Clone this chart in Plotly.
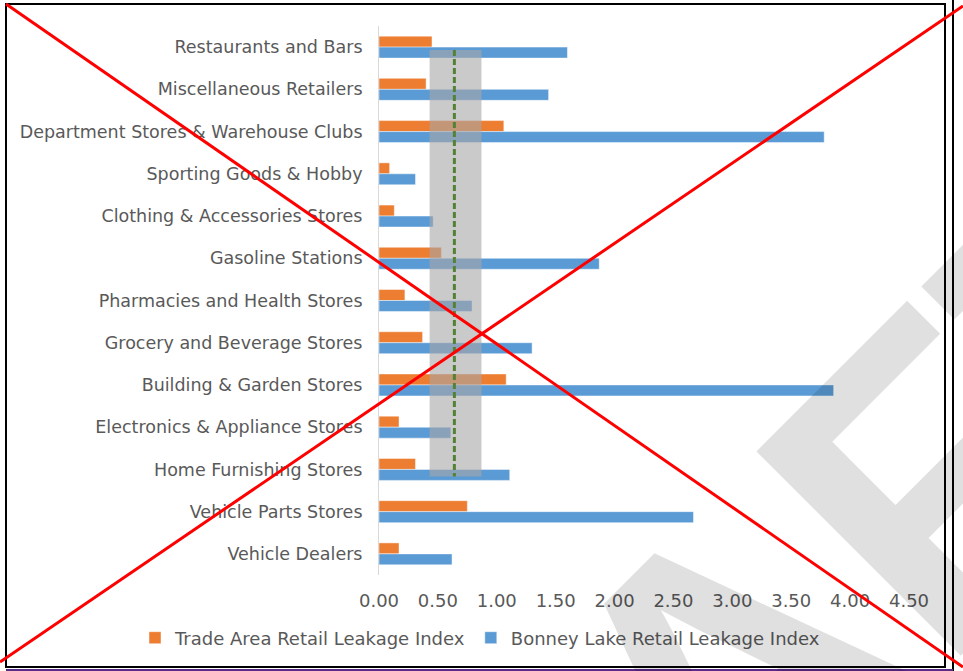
import plotly.graph_objects as go

# retail categories, top to bottom as shown
categories = [
    "Restaurants and Bars",
    "Miscellaneous Retailers",
    "Department Stores & Warehouse Clubs",
    "Sporting Goods & Hobby",
    "Clothing & Accessories Stores",
    "Gasoline Stations",
    "Pharmacies and Health Stores",
    "Grocery and Beverage Stores",
    "Building & Garden Stores",
    "Electronics & Appliance Stores",
    "Home Furnishing Stores",
    "Vehicle Parts Stores",
    "Vehicle Dealers",
]
trade_area = [0.45, 0.40, 1.06, 0.09, 0.13, 0.53, 0.22, 0.37, 1.08, 0.17, 0.31, 0.75, 0.17]
bonney_lake = [1.60, 1.44, 3.78, 0.31, 0.46, 1.87, 0.79, 1.30, 3.86, 0.61, 1.11, 2.67, 0.62]

# shaded reference range and its mid value
band_low, band_high, band_mid = 0.43, 0.87, 0.64
band_rows = ("Restaurants and Bars", "Home Furnishing Stores")

x_ticks = [0, 0.5, 1, 1.5, 2, 2.5, 3, 3.5, 4, 4.5]

W, H = 963, 671
L, R, T, B = 379, 54, 26, 96
PW, PH = W - L - R, H - T - B


def px(x):
    return (x - L) / PW


def py(y):
    return (T + PH - y) / PH


FONT = "DejaVu Sans"
GREY = "#595959"

fig = go.Figure()
fig.add_trace(go.Bar(
    y=categories, x=trade_area, orientation="h",
    name="Trade Area Retail Leakage Index",
    marker=dict(color="#ED7D31", line=dict(color="rgba(255,255,255,0.45)", width=1)),
))
fig.add_trace(go.Bar(
    y=categories, x=bonney_lake, orientation="h",
    name="Bonney Lake Retail Leakage Index",
    marker=dict(color="#5B9BD5", line=dict(color="rgba(255,255,255,0.45)", width=1)),
))

# grey band + dashed mid line over the bars
y_top = categories.index(band_rows[0]) + 0.07
y_bot = categories.index(band_rows[1]) + 0.17
fig.add_shape(type="rect", xref="x", yref="y", x0=band_low, x1=band_high,
              y0=y_top, y1=y_bot, fillcolor="rgba(168,166,168,0.6)",
              line=dict(width=0), layer="above")
fig.add_shape(type="line", xref="x", yref="y", x0=band_mid, x1=band_mid,
              y0=y_top, y1=y_bot, line=dict(color="#548235", width=3, dash="6px,3px"),
              layer="above")

# DRAFT watermark
fig.add_annotation(text="<b>DRAFT</b>", xref="paper", yref="paper",
                   x=px(697), y=py(713), xanchor="center", yanchor="middle",
                   showarrow=False, textangle=-45,
                   font=dict(family="Liberation Sans", size=420, color="rgba(0,0,0,0.12)"))

# page border
fig.add_shape(type="rect", xref="paper", yref="paper", x0=px(6), x1=px(945),
              y0=py(667), y1=py(4), line=dict(color="black", width=2), layer="above")
fig.add_shape(type="line", xref="paper", yref="paper", x0=px(953), x1=px(953),
              y0=py(671), y1=py(0), line=dict(color="black", width=2), layer="above")
fig.add_shape(type="line", xref="paper", yref="paper", x0=px(6), x1=px(953),
              y0=py(670), y1=py(670), line=dict(color="#5b2c86", width=2), layer="above")

# red cross over the whole page
fig.add_shape(type="line", xref="paper", yref="paper", x0=px(6), y0=py(4),
              x1=px(963), y1=py(667), line=dict(color="red", width=3), layer="above")
fig.add_shape(type="line", xref="paper", yref="paper", x0=px(0), y0=py(662),
              x1=px(963), y1=py(6), line=dict(color="red", width=3), layer="above")

fig.update_layout(
    width=W, height=H,
    margin=dict(l=L, r=R, t=T, b=B),
    paper_bgcolor="white", plot_bgcolor="white",
    barmode="group", bargap=0.48, bargroupgap=0,
    font=dict(family=FONT, size=17, color=GREY),
    showlegend=True,
    legend=dict(orientation="h", x=px(135), y=py(638), xanchor="left", yanchor="middle",
                font=dict(size=18, color=GREY), itemwidth=30),
)
fig.update_xaxes(range=[0, 4.5], tickvals=x_ticks, tickformat=".2f",
                 showgrid=False, zeroline=False, showline=False,
                 ticklabelstandoff=13, tickfont=dict(size=18, color=GREY))
fig.update_yaxes(autorange="reversed", showgrid=False, zeroline=False,
                 showline=True, linecolor="#d9d9d9", linewidth=1,
                 ticks="", ticklabelstandoff=12, tickfont=dict(size=17.5, color=GREY))

# page body margin off so the figure sits at the window corner
fig.write_html("out.html", config={"displayModeBar": False},
               post_script="document.body.style.margin='0';")
